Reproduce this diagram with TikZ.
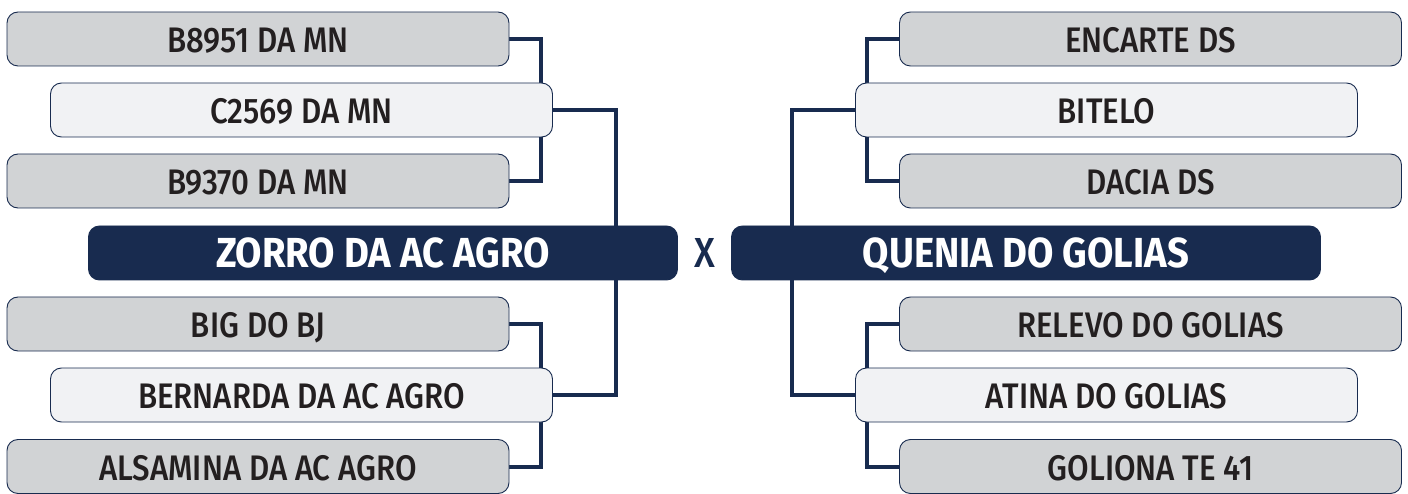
\documentclass[tikz,border=0pt]{standalone}
\usepackage{fontspec}
\setmainfont{Fira Sans}
\newfontfamily\namefont[FakeStretch=0.88]{Fira Sans Medium}
\newfontfamily\titlefont[FakeStretch=0.91]{Fira Sans Bold}
\usetikzlibrary{backgrounds}
\definecolor{navy}{HTML}{182B4F}
\definecolor{boxgray}{HTML}{D1D3D5}
\definecolor{boxlight}{HTML}{F1F2F4}
\definecolor{ink}{HTML}{231F20}
\tikzset{
  grandbox/.style={draw=navy, line width=0.9pt, fill=boxgray, rounded corners=11pt,
    minimum width=502pt, minimum height=54pt, inner sep=0pt, text height=27.4pt, text depth=0pt,
    text=ink, font={\namefont\fontsize{35.5}{38}\selectfont}},
  parentbox/.style={grandbox, fill=boxlight},
  mainbox/.style={draw=navy, line width=0.9pt, fill=navy, rounded corners=11pt,
    minimum width=589pt, minimum height=54pt, inner sep=0pt, text height=29pt, text depth=0pt,
    text=white, font={\titlefont\fontsize{42}{45}\selectfont}},
  link/.style={draw=navy, line width=4pt}
}

\begin{document}
\begin{tikzpicture}[x=1pt,y=-1pt]
\useasboundingbox (0,0) rectangle (1408,494);

\node[grandbox] (b8951) at (258,39) {B8951 DA MN};
\node[parentbox] (c2569) at (301.5,110) {C2569 DA MN};
\node[grandbox] (b9370) at (258,181) {B9370 DA MN};
\node[mainbox] (zorro) at (383,253) {ZORRO DA AC AGRO};
\node[grandbox] (bigbj) at (258,324) {BIG DO BJ};
\node[parentbox] (bernarda) at (301.5,395) {BERNARDA DA AC AGRO};
\node[grandbox] (alsamina) at (258,466.5) {ALSAMINA DA AC AGRO};

\node[grandbox] (encarte) at (1150.5,39) {ENCARTE DS};
\node[parentbox] (bitelo) at (1106.5,110) {BITELO};
\node[grandbox] (dacia) at (1150.5,181) {DACIA DS};
\node[mainbox] (quenia) at (1026,253) {QUENIA DO GOLIAS};
\node[grandbox] (relevo) at (1150.5,324) {RELEVO DO GOLIAS};
\node[parentbox] (atina) at (1106.5,395) {ATINA DO GOLIAS};
\node[grandbox] (goliona) at (1150.5,466.5) {GOLIONA TE 41};

\node[text=navy, inner sep=0pt, text height=29pt, text depth=0pt,
  font={\namefont\fontsize{42}{45}\selectfont}] (cross) at (705,253) {X};

\begin{scope}[on background layer]
\draw[link] (b8951.east) -- ++(32,0) |- (b9370.east);
\draw[link] (c2569.east) -- ++(63,0) |- (bernarda.east);
\draw[link] (bigbj.east) -- ++(32,0) |- (alsamina.east);
\draw[link] (encarte.west) -- ++(-32,0) |- (dacia.west);
\draw[link] (bitelo.west) -- ++(-63,0) |- (atina.west);
\draw[link] (relevo.west) -- ++(-32,0) |- (goliona.west);
\end{scope}
\end{tikzpicture}
\end{document}
